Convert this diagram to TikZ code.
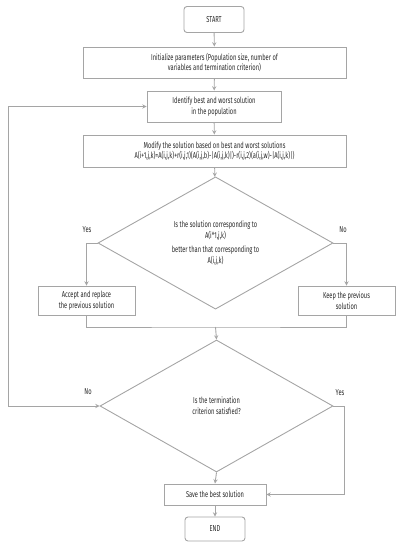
\documentclass[tikz,border=0pt]{standalone}
\usepackage{fontspec}
\setmainfont{Fira Sans}[FakeStretch=0.67]
\usepackage{xcolor}
\usetikzlibrary{positioning,arrows,shapes.geometric}
\definecolor{linegray}{RGB}{165,165,165}
\definecolor{textgray}{RGB}{40,40,40}
\tikzstyle{terminal} = [rectangle, rounded corners=3bp, minimum width=60bp, minimum height=26bp, text centered, draw=linegray, line width=0.9bp]
\tikzstyle{process} = [rectangle, minimum height=31bp, text centered, align=center, draw=linegray, line width=0.9bp]
\tikzstyle{decision} = [diamond, minimum width=235bp, minimum height=131bp, inner sep=0pt, align=center, draw=linegray, line width=0.9bp]
\tikzstyle{arrow} = [line width=0.9bp, draw=linegray, ->, >=stealth]
\tikzstyle{line} = [line width=0.9bp, draw=linegray]
\tikzstyle{answer} = [inner sep=1pt]

\begin{document}
\begin{tikzpicture}
		[x=1bp, y=-1bp, every node/.style={font=\fontsize{8.6}{10.8}\selectfont, text=textgray}]
		\useasboundingbox (0,0) rectangle (403,550);
		\node[terminal] (start) at (214,19.5) {START};
		\node[process, minimum width=263bp] (init) at (214.5,62.5) {Initialize parameters (Population size, number of\\variables and termination criterion)};
		\node[process, minimum width=134bp] (identify) at (214,106.5) {Identify best and worst solution\\in the population};
		\node[process, minimum width=263bp, minimum height=32bp] (modify) at (214.5,151) {Modify the solution based on best and worst solutions\\A(i+1,j,k)=A(i,j,k)+r(i,j,1)(A(i,j,b)-|A(i,j,k)|)-r(i,j,2)(a(i,j,w)-|A(i,j,k)|)};
		\node[decision] (better) at (215.5,243) {Is the solution corresponding to\\A(i*1,j,k)\\[4bp]better than that corresponding to\\A(i,j,k)};
		\node[process, minimum width=97bp, minimum height=29bp] (accept) at (86.5,300.5) {Accept and replace\\the previous solution};
		\node[process, minimum width=97bp, minimum height=29bp] (keep) at (346.5,300.5) {Keep the previous\\solution};
		\node[decision, minimum width=233bp, minimum height=132bp] (stop) at (216.5,406) {Is the termination\\criterion satisfied?};
		\node[process, minimum width=102bp, minimum height=21bp] (save) at (215,494.5) {Save the best solution};
		\node[terminal, minimum height=24bp] (end) at (215,529) {END};
		
		\node[answer] (yes1) at (87,230) {Yes};
		\node[answer] (no1) at (343,230) {No};
		\node[answer] (no2) at (88,392) {No};
		\node[answer] (yes2) at (340,393) {Yes};
		
		\coordinate (join) at (215.5,327);
		\coordinate (loop) at (8,406);
		\coordinate (exit) at (344,406);
		
		\draw[arrow] (start) -- (init);
		\draw[arrow] (init) -- (identify);
		\draw[arrow] (identify) -- (modify);
		\draw[arrow] (modify) -- (better);
		\draw[arrow] (better.west) -| (accept.north);
		\draw[arrow] (better.east) -| (keep.north);
		\draw[line] (accept.south) |- (join) -| (keep.south);
		\draw[arrow] (join) -- (stop.north);
		\draw[arrow, <->] (stop.west) -- (loop) |- (identify.west);
		\draw[arrow] (stop.east) -- (exit) |- (save.east);
		\draw[arrow] (stop.south) -- (save.north);
		\draw[arrow] (save) -- (end);
		\end{tikzpicture}
\end{document}
